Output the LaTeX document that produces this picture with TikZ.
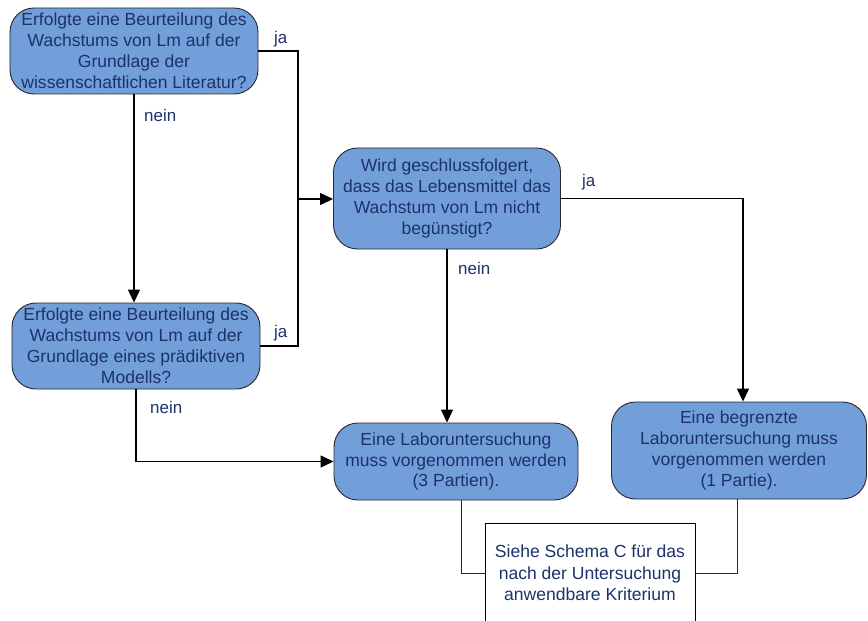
\documentclass[tikz,border=0pt]{standalone}
\usepackage{fontspec}
\setmainfont{Liberation Sans}
\usetikzlibrary{arrows.meta}
\definecolor{boxfill}{RGB}{114,159,218}
\definecolor{txtblue}{RGB}{28,50,105}
\definecolor{edgegray}{RGB}{40,40,40}
\begin{document}
\begin{tikzpicture}[x=1bp,y=-1bp,
  decision/.style={draw=edgegray, line width=0.9bp, fill=boxfill, rounded corners=24bp,
    text=txtblue, align=center, font=\fontsize{17.6}{21}\selectfont, inner sep=0pt},
  notebox/.style={draw=black, line width=0.9bp, fill=white,
    text=txtblue, align=center, font=\fontsize{17.6}{21.5}\selectfont, inner sep=0pt},
  lbl/.style={text=txtblue, font=\fontsize{17}{19}\selectfont, inner sep=0pt},
  arr/.style={draw=black, line width=1.3bp, -{Triangle[length=13bp,width=12bp]}},
  link/.style={draw=black, line width=1.3bp},
  thin/.style={draw=edgegray, line width=1bp}]
\clip (0,0) rectangle (868,621);
\fill[white] (0,0) rectangle (868,621);

\node[decision, minimum width=248bp, minimum height=86bp] (b1) at (134,51)
  {Erfolgte eine Beurteilung des\\Wachstums von Lm auf der\\Grundlage der\\wissenschaftlichen Literatur?};
\node[decision, minimum width=248bp, minimum height=86bp] (b2) at (136,346)
  {Erfolgte eine Beurteilung des\\Wachstums von Lm auf der\\Grundlage eines prädiktiven\\Modells?};
\node[decision, minimum width=227bp, minimum height=101bp] (b3) at (447,198.5)
  {Wird geschlussfolgert,\\dass das Lebensmittel das\\Wachstum von Lm nicht\\begünstigt?};
\node[decision, minimum width=244bp, minimum height=77bp] (b4) at (456,461.5)
  {Eine Laboruntersuchung\\muss vorgenommen werden\\(3 Partien).};
\node[decision, minimum width=255bp, minimum height=97bp] (b5) at (739,450.5)
  {Eine begrenzte\\Laboruntersuchung muss\\vorgenommen werden\\(1 Partie).};
\node[notebox, minimum width=210bp, minimum height=100bp] (b6) at (590,573)
  {Siehe Schema C für das\\nach der Untersuchung\\anwendbare Kriterium};

\coordinate (j) at (298,199);

\draw[arr] (b1.south) -- (b1.south |- b2.north);
\draw[link] (b1.east) -| (j);
\draw[link] (b2.east) -| (j);
\draw[arr] (j) -- (j -| b3.west);
\draw[arr] (b2.south) |- (b4.west);
\draw[arr] (b3.south) -- (b3.south |- b4.north);
\draw[arr] (b3.east) -| ([xshift=4bp]b5.north);
\draw[thin] ([xshift=5bp]b4.south) |- (b6.west);
\draw[thin] ([xshift=-2bp]b5.south) |- (b6.east);

\node[lbl, anchor=west] (l1) at (274,39) {ja};
\node[lbl, anchor=west] (l2) at (144,115) {nein};
\node[lbl, anchor=west] (l3) at (274,333) {ja};
\node[lbl, anchor=west] (l4) at (150,407) {nein};
\node[lbl, anchor=west] (l5) at (582,182) {ja};
\node[lbl, anchor=west] (l6) at (458,268) {nein};
\end{tikzpicture}
\end{document}
